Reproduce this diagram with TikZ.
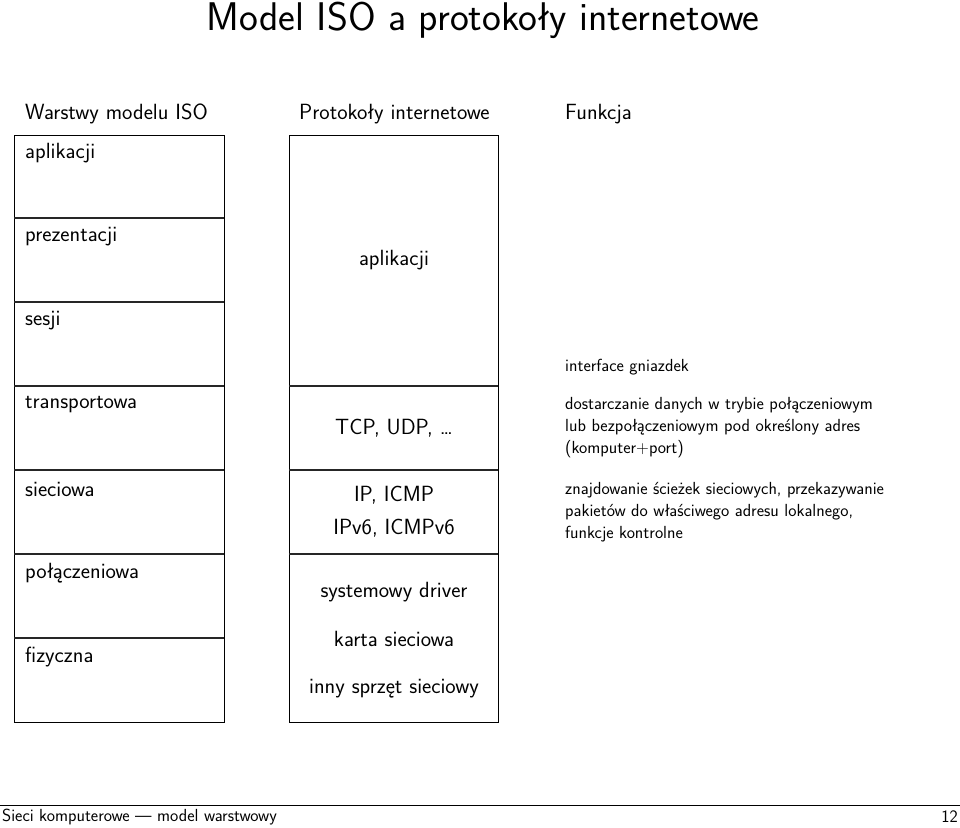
\documentclass[tikz,border=0pt]{standalone}
\usepackage{fontspec}
\begin{document}
\begin{tikzpicture}[x=1pt,y=-1pt,
  lbl/.style={anchor=west,inner sep=0,font=\fontsize{22}{25}\selectfont\sffamily},
  mid/.style={inner sep=0,font=\fontsize{22}{25}\selectfont\sffamily},
  sm/.style={anchor=north west,inner sep=0,align=left,font=\fontsize{17.5}{22}\selectfont\sffamily},
  ln/.style={line width=1.6pt,draw=black!85}]
\useasboundingbox (0,0) rectangle (960,827);
\node[inner sep=0,font=\fontsize{40}{46}\selectfont\sffamily] (title) at (483,20) {Model ISO a protokoły internetowe};
\node[lbl] (h1) at (25,114) {Warstwy modelu ISO};
\node[lbl] (h2) at (299,114) {Protokoły internetowe};
\node[lbl] (h3) at (565,114) {Funkcja};
% left column
\draw[line width=1pt] (14,135) rectangle (224,722);
\foreach \y in {218,302,386,470,554,638} \draw[ln] (14,\y) -- (224,\y);
\node[lbl] (l1) at (25,153) {aplikacji};
\node[lbl] (l2) at (25,237) {prezentacji};
\node[lbl] (l3) at (25,321) {sesji};
\node[lbl] (l4) at (25,405) {transportowa};
\node[lbl] (l5) at (25,489) {sieciowa};
\node[lbl] (l6) at (25,573) {połączeniowa};
\node[lbl] (l7) at (25,657) {fizyczna};
% middle column
\draw[line width=1pt] (289,135) rectangle (498,722);
\foreach \y in {386,470,554} \draw[ln] (289,\y) -- (498,\y);
\node[mid] (m1) at (394,260) {aplikacji};
\node[mid] (m2) at (394,428) {TCP, UDP, \dots};
\node[mid] (m3) at (394,495) {IP, ICMP};
\node[mid] (m4) at (394,528) {IPv6, ICMPv6};
\node[mid] (m5) at (394,592) {systemowy driver};
\node[mid] (m6) at (394,639) {karta sieciowa};
\node[mid] (m7) at (394,689) {inny sprzęt sieciowy};
% right column
\node[sm] (r1) at (565,359) {interface gniazdek};
\node[sm] (r2) at (565,397) {dostarczanie danych w trybie połączeniowym\\lub bezpołączeniowym pod określony adres\\(komputer+port)};
\node[sm] (r3) at (565,482) {znajdowanie ścieżek sieciowych, przekazywanie\\pakietów do właściwego adresu lokalnego,\\funkcje kontrolne};
% footer
\draw[line width=0.8pt] (0,805) -- (960,805);
\node[anchor=west,inner sep=0,font=\fontsize{17.5}{20}\selectfont\sffamily] (f1) at (2,817) {Sieci komputerowe --- model warstwowy};
\node[anchor=east,inner sep=0,font=\fontsize{17.5}{20}\selectfont\sffamily] (f2) at (958,817) {12};
\end{tikzpicture}
\end{document}
